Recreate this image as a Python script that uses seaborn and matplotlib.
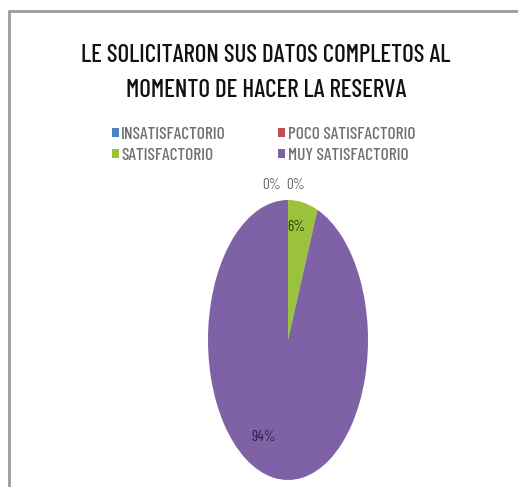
import matplotlib
matplotlib.use("Agg")
import matplotlib.pyplot as plt
from matplotlib.lines import Line2D
import seaborn as sns

sns.set_theme(style="white")
plt.rcParams["font.family"] = ["Barlow Condensed", "DejaVu Sans"]

title = "LE SOLICITARON SUS DATOS COMPLETOS AL\nMOMENTO DE HACER LA RESERVA"
categories = ["INSATISFACTORIO", "POCO SATISFACTORIO", "SATISFACTORIO", "MUY SATISFACTORIO"]
values = [0, 0, 6, 94]
colors = ["#4F81BD", "#C0504D", "#9BC23C", "#7F62A6"]

W, H = 518, 487
fig = plt.figure(figsize=(W / 100, H / 100), dpi=100)
fig.patch.set_facecolor("white")

# pie sits in a tall axes so it renders as an ellipse
ax = fig.add_axes([208 / W, (H - 480) / H, 160 / W, 280 / H])
wedges, texts, autotexts = ax.pie(
    values, colors=colors, startangle=90, counterclock=False,
    autopct=lambda p: f"{p:.0f}%", pctdistance=0.7,
    wedgeprops=dict(linewidth=0),
    textprops=dict(fontsize=11),
)
ax.set_aspect("auto")
ax.set_xlim(-1, 1)
ax.set_ylim(-1, 1)

# label placement
label_pos = [(-0.2, 1.11), (0.1, 1.11), (0.1, 0.81), (-0.3, -0.69)]
label_col = ["#666666", "#666666", "#2d3a10", "#2b1f4a"]
for t, pos, c in zip(autotexts, label_pos, label_col):
    t.set_position(pos)
    t.set_color(c)
    t.set_fontsize(11)

fig.text(266 / W, 1 - 73 / H, title, ha="center", va="center",
         fontsize=18, fontweight=500, color="#111111", linespacing=1.68)

# legend laid out row by row: two entries per row
order = [0, 2, 1, 3]
leg = fig.legend([wedges[i] for i in order], [categories[i] for i in order],
                 ncol=2, frameon=False,
                 loc="upper left", bbox_to_anchor=(96 / W, 1 - 111 / H),
                 prop=dict(size=12.5, weight=500),
                 handlelength=0.4, handleheight=0.5,
                 handletextpad=0.15, columnspacing=3.0, labelspacing=0.35)
for t in leg.get_texts():
    t.set_color("#6f6f6f")

# outer frame edges
fig.add_artist(Line2D([9 / W, 1], [1 - 11 / H, 1 - 11 / H], color="#9a9a9a", lw=2))
fig.add_artist(Line2D([9 / W, 9 / W], [0, 1 - 11 / H], color="#9a9a9a", lw=2))

fig.savefig("out.png", dpi=100, facecolor="white")
